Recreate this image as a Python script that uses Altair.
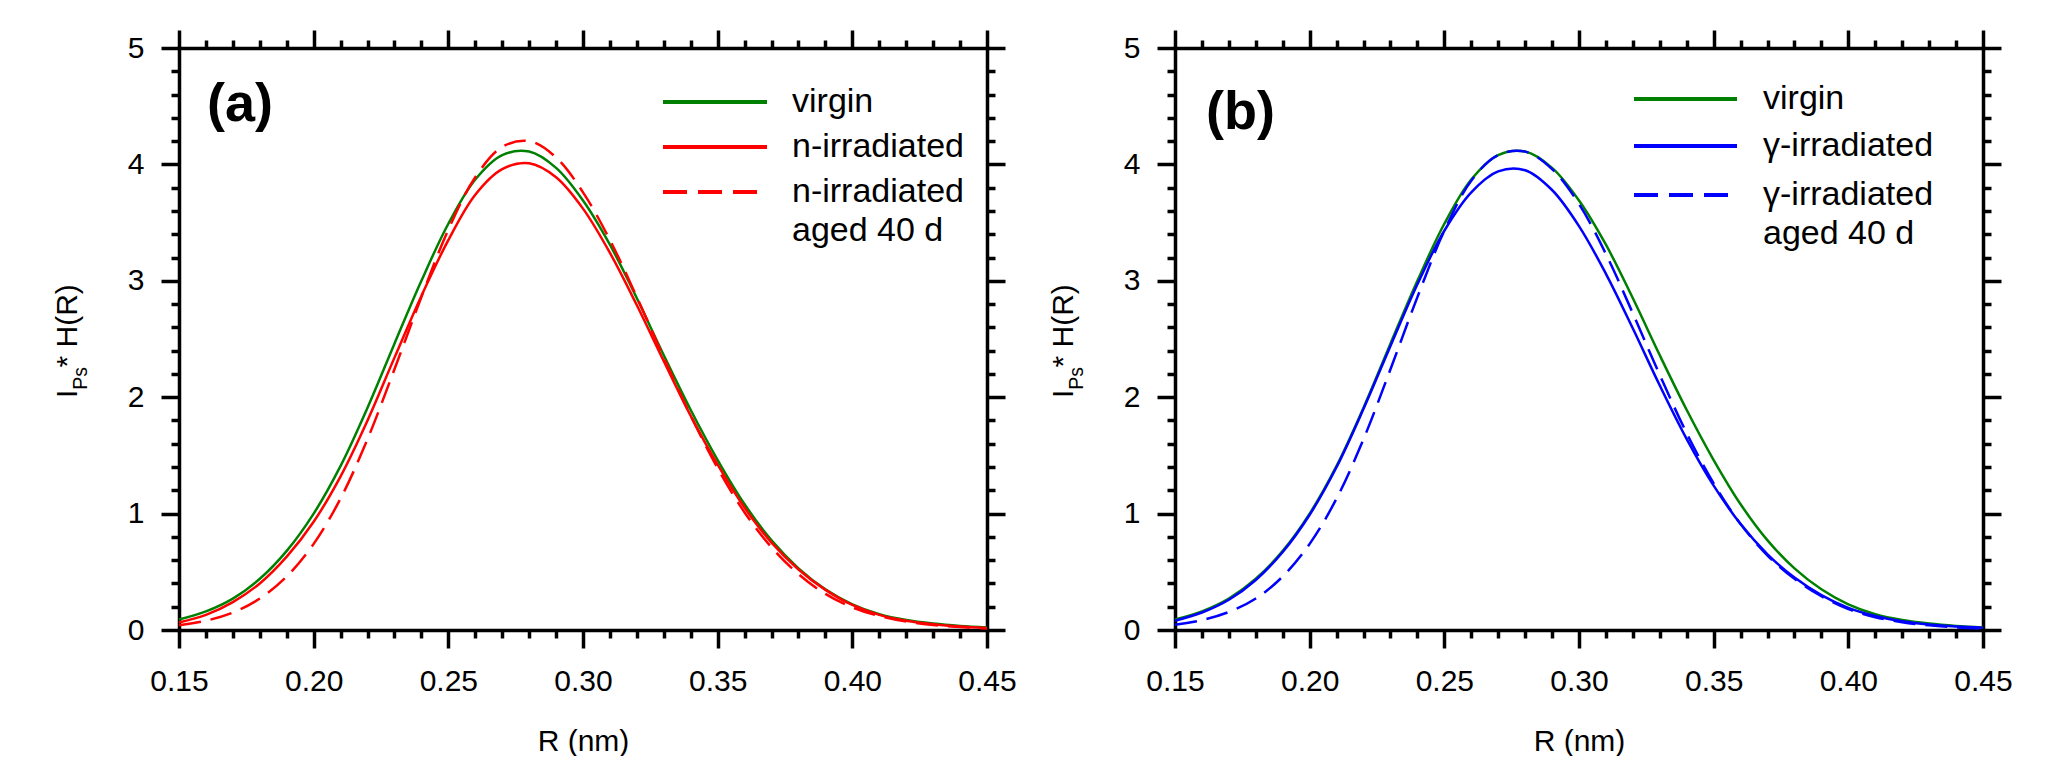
import altair as alt
import pandas as pd

# ---------------- data ----------------
R_NM = [0.15, 0.16, 0.17, 0.18, 0.19, 0.20, 0.21, 0.22, 0.23, 0.24, 0.25,
        0.26, 0.27, 0.28, 0.29, 0.30, 0.31, 0.32, 0.33, 0.34, 0.35, 0.36,
        0.37, 0.38, 0.39, 0.40, 0.41, 0.42, 0.43, 0.44, 0.45]

VIRGIN = [0.09, 0.16, 0.27, 0.44, 0.68, 1.00, 1.41, 1.91, 2.46, 3.00, 3.49,
          3.87, 4.08, 4.11, 3.97, 3.69, 3.31, 2.85, 2.36, 1.89, 1.46, 1.08,
          0.77, 0.53, 0.35, 0.22, 0.135, 0.085, 0.055, 0.035, 0.022]

N_IRR = [0.065, 0.13, 0.24, 0.40, 0.63, 0.93, 1.32, 1.80, 2.34, 2.87, 3.35,
         3.74, 3.96, 4.01, 3.89, 3.62, 3.24, 2.79, 2.31, 1.84, 1.42, 1.05,
         0.75, 0.52, 0.345, 0.215, 0.13, 0.08, 0.05, 0.03, 0.018]

N_IRR_AGED = [0.04, 0.08, 0.15, 0.27, 0.46, 0.74, 1.13, 1.64, 2.24, 2.86, 3.44,
              3.89, 4.15, 4.20, 4.06, 3.76, 3.35, 2.86, 2.34, 1.84, 1.39, 1.01,
              0.71, 0.48, 0.31, 0.195, 0.12, 0.072, 0.043, 0.025, 0.013]

G_IRR = [0.08, 0.15, 0.26, 0.43, 0.67, 0.99, 1.40, 1.90, 2.44, 2.97, 3.43,
         3.76, 3.94, 3.95, 3.78, 3.47, 3.06, 2.59, 2.10, 1.64, 1.24, 0.91,
         0.65, 0.45, 0.30, 0.19, 0.12, 0.075, 0.047, 0.03, 0.02]

G_IRR_AGED = [0.045, 0.085, 0.155, 0.27, 0.46, 0.74, 1.13, 1.64, 2.24, 2.86, 3.43,
              3.86, 4.08, 4.11, 3.96, 3.66, 3.23, 2.72, 2.19, 1.69, 1.26, 0.91,
              0.64, 0.44, 0.29, 0.18, 0.11, 0.067, 0.04, 0.023, 0.012]

X_MAJOR = [0.15, 0.20, 0.25, 0.30, 0.35, 0.40, 0.45]
X_MINOR = [0.16, 0.17, 0.18, 0.19, 0.21, 0.22, 0.23, 0.24, 0.26, 0.27, 0.28,
           0.29, 0.31, 0.32, 0.33, 0.34, 0.36, 0.37, 0.38, 0.39, 0.41, 0.42,
           0.43, 0.44]
Y_MAJOR = [0, 1, 2, 3, 4, 5]
Y_MINOR = [0.2, 0.4, 0.6, 0.8, 1.2, 1.4, 1.6, 1.8, 2.2, 2.4, 2.6, 2.8,
           3.2, 3.4, 3.6, 3.8, 4.2, 4.4, 4.6, 4.8]

LEGEND_A = ["virgin", "n-irradiated", "n-irradiated", "aged 40 d"]
LEGEND_B = ["virgin", "γ-irradiated", "γ-irradiated", "aged 40 d"]
PANEL_TAGS = ["(a)", "(b)"]
Y_TITLE_PARTS = ["I", "Ps", "* H(R)"]
X_TITLE = "R (nm)"

# ---------------- styling / layout ----------------
FONT = "Liberation Sans, Arial, sans-serif"
W, H = 808, 582
GREEN, RED, BLUE = "#008000", "#ff0000", "#0000ff"
DASH_CURVE = [22, 10]
DASH_LEG = [24, 11]
AXW = 3.5

XS = alt.Scale(domain=[0.15, 0.45], nice=False, zero=False)
YS = alt.Scale(domain=[0, 5], nice=False, zero=False)

df_a = pd.DataFrame({"R": R_NM, "virgin": VIRGIN, "irr": N_IRR, "aged": N_IRR_AGED})
df_b = pd.DataFrame({"R": R_NM, "virgin": VIRGIN, "irr": G_IRR, "aged": G_IRR_AGED})
AX_DF = pd.DataFrame({"R": [0.15, 0.45], "v": [0.0, 5.0]})


def make_axis(orient, values, size, labels, domain, fmt="", pad=0, title_pad=0):
    kw = dict(orient=orient, values=values, tickSize=size, tickWidth=AXW,
              tickColor="black", labels=labels, domain=domain, grid=False,
              ticks=True)
    if domain:
        kw.update(domainWidth=AXW, domainColor="black", domainCap="square")
    if labels:
        kw.update(labelFont=FONT, labelFontSize=30, labelColor="black",
                  format=fmt, labelFlush=False, labelOverlap=False,
                  labelPadding=pad)
    if title_pad:
        kw.update(titleFont=FONT, titleFontSize=30, titleFontWeight="normal",
                  titleColor="black", titlePadding=title_pad)
    return alt.Axis(**kw)


def axis_layer(xaxis, yaxis, xtitle=None):
    return alt.Chart(AX_DF).mark_point(opacity=0).encode(
        x=alt.X("R:Q", scale=XS, axis=xaxis, title=xtitle),
        y=alt.Y("v:Q", scale=YS, axis=yaxis, title=None),
    )


def curve(df, field, color, dash):
    kw = dict(color=color, strokeWidth=2.5, interpolate="catmull-rom")
    if dash:
        kw["strokeDash"] = dash
    return alt.Chart(df).mark_line(**kw).encode(
        x=alt.X("R:Q", scale=XS, axis=None),
        y=alt.Y(f"{field}:Q", scale=YS, axis=None),
    )


def leg_rule(x1, x2, y, color, dash):
    kw = dict(color=color, strokeWidth=4)
    if dash:
        kw["strokeDash"] = dash
    return alt.Chart(pd.DataFrame({"k": [0]})).mark_rule(**kw).encode(
        x=alt.value(x1), x2=alt.value(x2), y=alt.value(y))


def text_item(txt, x, y, size, **kw):
    return alt.Chart(pd.DataFrame({"t": [txt]})).mark_text(
        font=FONT, fontSize=size, color="black", **kw
    ).encode(x=alt.value(x), y=alt.value(y), text="t:N")


def panel(df, color2, labels, tag, leg, tag_pos, anchor=False):
    lx1, lx2, ldx2, tx, rows = leg
    layers = [
        axis_layer(make_axis("bottom", X_MAJOR, 18, True, True, ".2f", 18, 30),
                   make_axis("left", Y_MAJOR, 18, True, True, "d", 17),
                   X_TITLE),
        axis_layer(make_axis("bottom", X_MINOR, 8, False, False),
                   make_axis("left", Y_MINOR, 8, False, False)),
        axis_layer(make_axis("top", X_MAJOR, 18, False, True),
                   make_axis("right", Y_MAJOR, 18, False, True)),
        axis_layer(make_axis("top", X_MINOR, 8, False, False),
                   make_axis("right", Y_MINOR, 8, False, False)),
        curve(df, "virgin", GREEN, None),
        curve(df, "irr", color2, None),
        curve(df, "aged", color2, DASH_CURVE),
        # legend
        leg_rule(lx1, lx2, rows[0], GREEN, None),
        leg_rule(lx1, lx2, rows[1], color2, None),
        leg_rule(lx1, ldx2, rows[2], color2, DASH_LEG),
        text_item(labels[0], tx, rows[0], 34, align="left", baseline="middle"),
        text_item(labels[1], tx, rows[1], 34, align="left", baseline="middle"),
        text_item(labels[2], tx, rows[2], 34, align="left", baseline="middle"),
        text_item(labels[3], tx, rows[3], 34, align="left", baseline="middle"),
        # panel tag
        text_item(tag, tag_pos[0], tag_pos[1], 54, fontWeight="bold",
                  align="left", baseline="alphabetic"),
        # y-axis title with subscript
        text_item(Y_TITLE_PARTS[0], -102, 350, 30, angle=270, align="left",
                  baseline="alphabetic"),
        text_item(Y_TITLE_PARTS[1], -92, 341.7, 19.5, angle=270, align="left",
                  baseline="alphabetic"),
        text_item(Y_TITLE_PARTS[2], -102, 319.5, 30, angle=270, align="left",
                  baseline="alphabetic"),
    ]
    if anchor:
        layers.append(
            alt.Chart(pd.DataFrame({"k": [0]})).mark_rule(
                color="white", opacity=0, strokeWidth=1
            ).encode(x=alt.value(-171), x2=alt.value(-170),
                     y=alt.value(-40), y2=alt.value(-39)))
    return alt.layer(*layers).resolve_axis(
        x="independent", y="independent").properties(width=W, height=H)


pa = panel(df_a, RED, LEGEND_A, PANEL_TAGS[0],
           (484, 588, 578, 613, [54, 99, 144, 183]), (28, 73), anchor=True)
pb = panel(df_b, BLUE, LEGEND_B, PANEL_TAGS[1],
           (459, 562, 554, 588, [51, 98, 147, 186]), (31, 81))

chart = alt.hconcat(pa, pb, spacing=188, bounds="flush").properties(
    padding=0
).configure_view(strokeWidth=0)

chart.save("out.html", embed_options={"renderer": "svg", "actions": False})
